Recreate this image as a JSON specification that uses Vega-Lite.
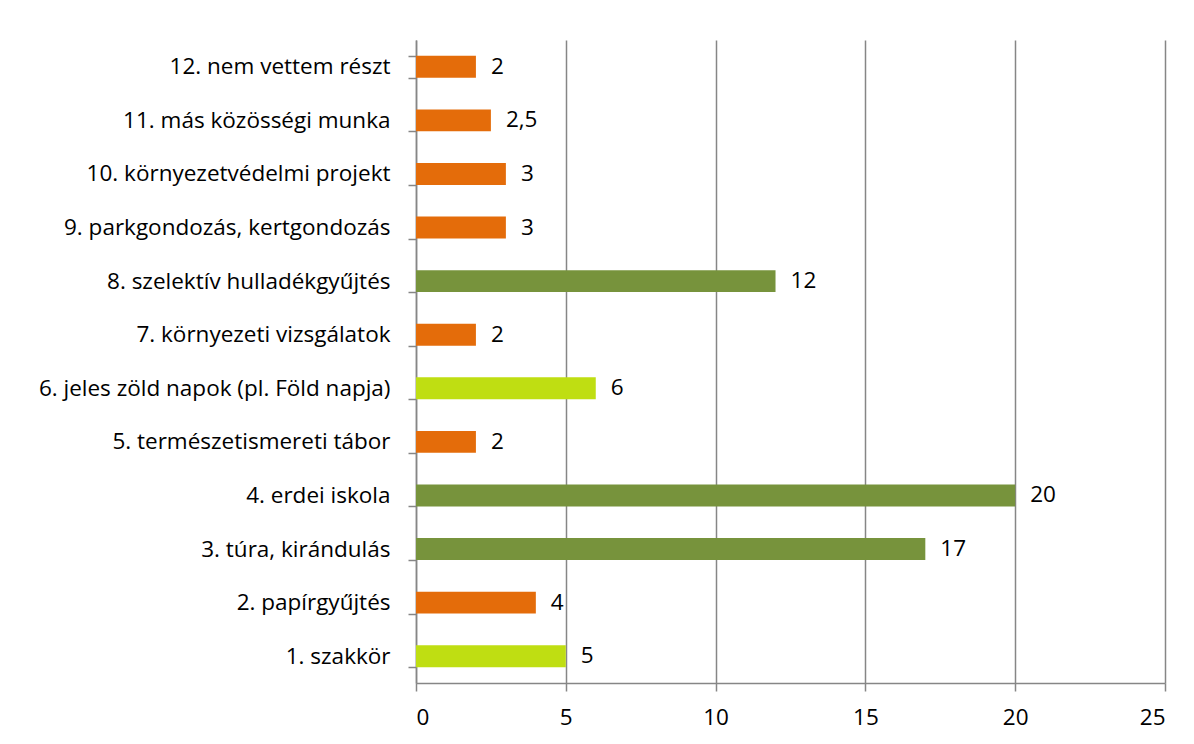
{
  "$schema": "https://vega.github.io/schema/vega-lite/v6.json",
  "width": 749,
  "height": 643,
  "autosize": {"type": "none"},
  "padding": {"left": 416, "top": 40, "right": 29, "bottom": 61},
  "background": "white",
  "config": {
    "view": {"stroke": null},
    "font": "Open Sans",
    "locale": {"number": {"decimal": ",", "thousands": " ", "grouping": [3], "currency": ["", " Ft"]}}
  },
  "data": {
    "values": [
      {"tevékenység": "12. nem vettem részt", "érték": 2, "csoport": "a"},
      {"tevékenység": "11. más közösségi munka", "érték": 2.5, "csoport": "a"},
      {"tevékenység": "10. környezetvédelmi projekt", "érték": 3, "csoport": "a"},
      {"tevékenység": "9. parkgondozás, kertgondozás", "érték": 3, "csoport": "a"},
      {"tevékenység": "8. szelektív hulladékgyűjtés", "érték": 12, "csoport": "b"},
      {"tevékenység": "7. környezeti vizsgálatok", "érték": 2, "csoport": "a"},
      {"tevékenység": "6. jeles zöld napok (pl. Föld napja)", "érték": 6, "csoport": "c"},
      {"tevékenység": "5. természetismereti tábor", "érték": 2, "csoport": "a"},
      {"tevékenység": "4. erdei iskola", "érték": 20, "csoport": "b"},
      {"tevékenység": "3. túra, kirándulás", "érték": 17, "csoport": "b"},
      {"tevékenység": "2. papírgyűjtés", "érték": 4, "csoport": "a"},
      {"tevékenység": "1. szakkör", "érték": 5, "csoport": "c"}
    ]
  },
  "encoding": {
    "y": {
      "field": "tevékenység",
      "type": "nominal",
      "sort": null,
      "title": null,
      "scale": {"paddingInner": 0.59, "paddingOuter": 0.295},
      "axis": {
        "tickBand": "extent",
        "domainColor": "#868686",
        "domainWidth": 1.5,
        "tickColor": "#868686",
        "tickWidth": 1.5,
        "tickSize": 8,
        "labelFontSize": 22.5,
        "labelColor": "#000000",
        "labelPadding": 18,
        "labelLimit": 420
      }
    },
    "x": {
      "field": "érték",
      "type": "quantitative",
      "title": null,
      "scale": {"domain": [0, 25], "nice": false},
      "axis": {
        "values": [0, 5, 10, 15, 20, 25],
        "format": "d",
        "grid": true,
        "gridColor": "#868686",
        "gridWidth": 1.5,
        "domainColor": "#868686",
        "domainWidth": 1.5,
        "tickColor": "#868686",
        "tickWidth": 1.5,
        "tickSize": 8,
        "labelFontSize": 22.5,
        "labelColor": "#000000",
        "labelPadding": 15
      }
    }
  },
  "layer": [
    {
      "mark": {"type": "bar"},
      "encoding": {
        "color": {
          "field": "csoport",
          "type": "nominal",
          "scale": {"domain": ["a", "b", "c"], "range": ["#E46C0A", "#77933C", "#BFDE12"]},
          "legend": null
        }
      }
    },
    {
      "mark": {"type": "text", "align": "left", "baseline": "middle", "dx": 15, "fontSize": 22.5, "color": "#000000"},
      "encoding": {
        "text": {"field": "érték", "type": "quantitative", "format": ".2~f"}
      }
    }
  ]
}
